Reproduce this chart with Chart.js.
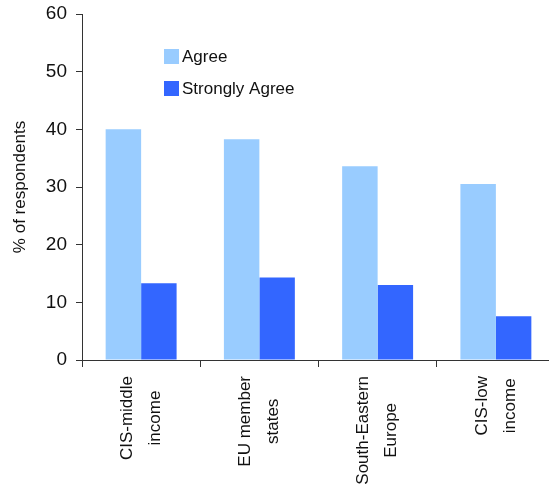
<!DOCTYPE html>
<html>
<head>
<meta charset="utf-8">
<script src="https://cdn.jsdelivr.net/npm/chart.js@4.4.1/dist/chart.umd.min.js"></script>
<style>
  html, body { margin: 0; padding: 0; background: #fff; overflow: hidden; }
  #wrap { width: 560px; height: 484px; }
</style>
</head>
<body>
<div id="wrap"><canvas id="chart"></canvas></div>
<script>
// Chart data
const categories = [
  ['CIS-middle', 'income'],
  ['EU member', 'states'],
  ['South-Eastern', 'Europe'],
  ['CIS-low', 'income']
];
const agree = [40.0, 38.3, 33.6, 30.5];
const stronglyAgree = [13.3, 14.3, 13.0, 7.6];
const yTicks = [0, 10, 20, 30, 40, 50, 60];

const FONT = '"Liberation Sans", Arial, sans-serif';
const AXIS_COLOR = '#333';

// rotated, centre-aligned category labels under the axis
const categoryLabels = {
  id: 'categoryLabels',
  afterDraw(chart) {
    const ctx = chart.ctx;
    const x = chart.scales.x;
    const axisY = x.top;
    ctx.save();
    ctx.font = '17px ' + FONT;
    ctx.fillStyle = '#111';
    ctx.textAlign = 'center';
    ctx.textBaseline = 'middle';
    categories.forEach((lines, i) => {
      const cx = x.getPixelForValue(i);
      const maxW = Math.max(...lines.map(l => ctx.measureText(l).width));
      const d = 16 + maxW / 2;
      ctx.save();
      ctx.translate(cx, axisY);
      ctx.rotate(-Math.PI / 2);
      lines.forEach((line, j) => {
        const off = (j - (lines.length - 1) / 2) * 28;
        ctx.fillText(line, -d, off);
      });
      ctx.restore();
    });
    ctx.restore();
  }
};

// legend drawn inside the plot
const innerLegend = {
  id: 'innerLegend',
  afterDraw(chart) {
    const ctx = chart.ctx;
    ctx.save();
    ctx.font = '17px ' + FONT;
    ctx.textBaseline = 'middle';
    chart.data.datasets.forEach((ds, i) => {
      const y = 49 + i * 32;
      ctx.fillStyle = ds.backgroundColor;
      ctx.fillRect(164, y, 15, 15);
      ctx.fillStyle = '#111';
      ctx.fillText(ds.label, 182, y + 8);
    });
    ctx.restore();
  }
};

const ctx = document.getElementById('chart').getContext('2d');
new Chart(ctx, {
  type: 'bar',
  data: {
    labels: categories,
    datasets: [
      {
        label: 'Agree',
        data: agree,
        backgroundColor: '#99CCFF',
        categoryPercentage: 0.6,
        barPercentage: 1.0
      },
      {
        label: 'Strongly Agree',
        data: stronglyAgree,
        backgroundColor: '#3366FF',
        categoryPercentage: 0.6,
        barPercentage: 1.0
      }
    ]
  },
  options: {
    responsive: true,
    maintainAspectRatio: false,
    animation: false,
    layout: { padding: { top: 14, right: 5, bottom: 117, left: 0 } },
    plugins: {
      legend: { display: false },
      tooltip: { enabled: false }
    },
    scales: {
      x: {
        offset: true,
        grid: {
          offset: true,
          drawOnChartArea: false,
          drawTicks: true,
          tickLength: 7,
          color: AXIS_COLOR
        },
        border: { display: true, color: AXIS_COLOR, width: 1 },
        ticks: { display: false }
      },
      y: {
        min: 0,
        max: 60,
        afterFit: scale => {
          scale.width = 82;
          scale.paddingTop = 0;
          scale.paddingBottom = 0;
        },
        afterBuildTicks: scale => { scale.ticks = yTicks.map(v => ({ value: v })); },
        grid: {
          drawOnChartArea: false,
          drawTicks: true,
          tickLength: 6,
          color: AXIS_COLOR
        },
        border: { display: true, color: AXIS_COLOR, width: 1 },
        ticks: {
          padding: 9,
          color: '#111',
          font: { family: FONT, size: 19 }
        },
        title: {
          display: true,
          text: '% of respondents',
          color: '#111',
          padding: { top: 10, bottom: 0 },
          font: { family: FONT, size: 17 }
        }
      }
    }
  },
  plugins: [categoryLabels, innerLegend]
});
</script>
</body>
</html>
